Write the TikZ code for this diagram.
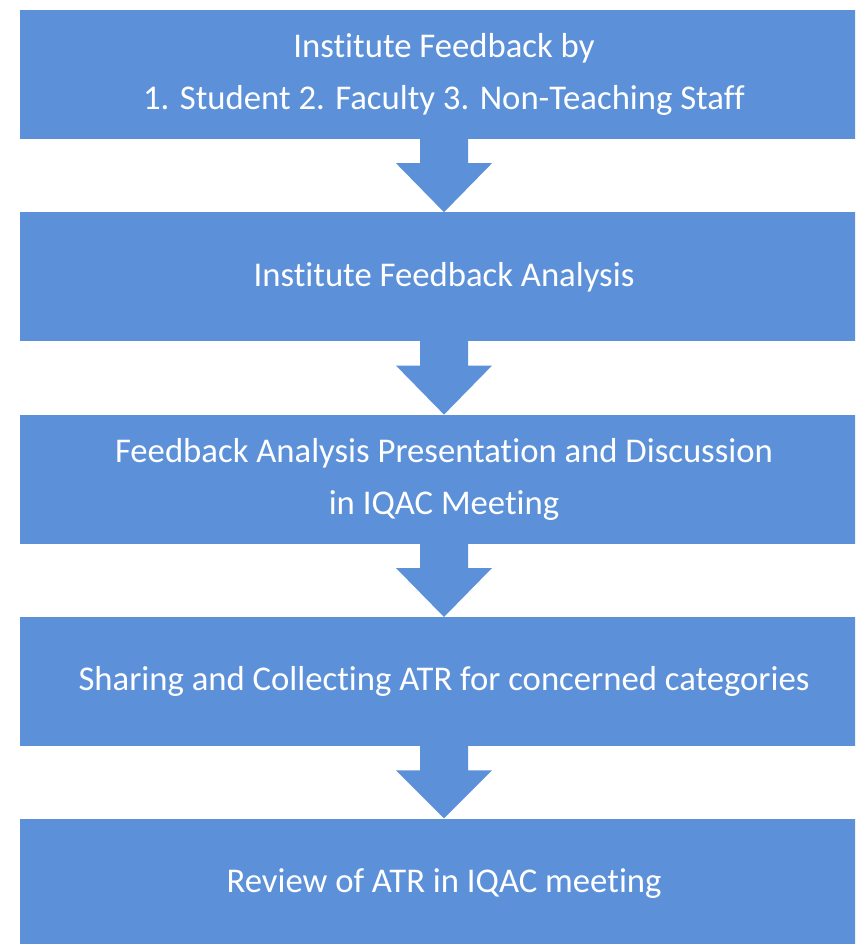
\documentclass[tikz,border=0pt]{standalone}
\usepackage{fontspec}
\setmainfont{Carlito}[Ligatures=NoCommon]
\usetikzlibrary{positioning,calc}

\definecolor{stageblue}{RGB}{92,145,218}
\tikzset{
  stage/.style={fill=stageblue, text=white, minimum width=848pt, minimum height=129pt,
    inner sep=0pt, align=center, font=\fontsize{34.7}{52.5}\selectfont},
}

\begin{document}
\begin{tikzpicture}[x=1pt,y=1pt]
  \useasboundingbox (0,0) rectangle (855,-944);
  \clip (0,0) rectangle (855,-944);
  % stages, top to bottom
  \node[stage] (feedback) at (444,-74.5) {Institute Feedback by\\1. Student 2. Faculty 3. Non-Teaching Staff};
  \node[stage, below=73pt of feedback] (analysis) {Institute Feedback Analysis};
  \node[stage, below=73pt of analysis] (meeting) {Feedback Analysis Presentation and Discussion\\in IQAC Meeting};
  \node[stage, below=73pt of meeting] (atr) {Sharing and Collecting ATR for concerned categories};
  \node[stage, below=72pt of atr] (review) {Review of ATR in IQAC meeting};
  % block arrows between the stages
  \foreach \a/\b in {feedback/analysis, analysis/meeting, meeting/atr, atr/review}
    \fill[stageblue] ($(\a.south)+(-24,1)$) -- ++(0,-25) -- ++(-24,0) -- (\b.north)
      -- ($(\a.south)+(48,-24)$) -- ++(-24,0) -- ++(0,25) -- cycle;
\end{tikzpicture}
\end{document}
